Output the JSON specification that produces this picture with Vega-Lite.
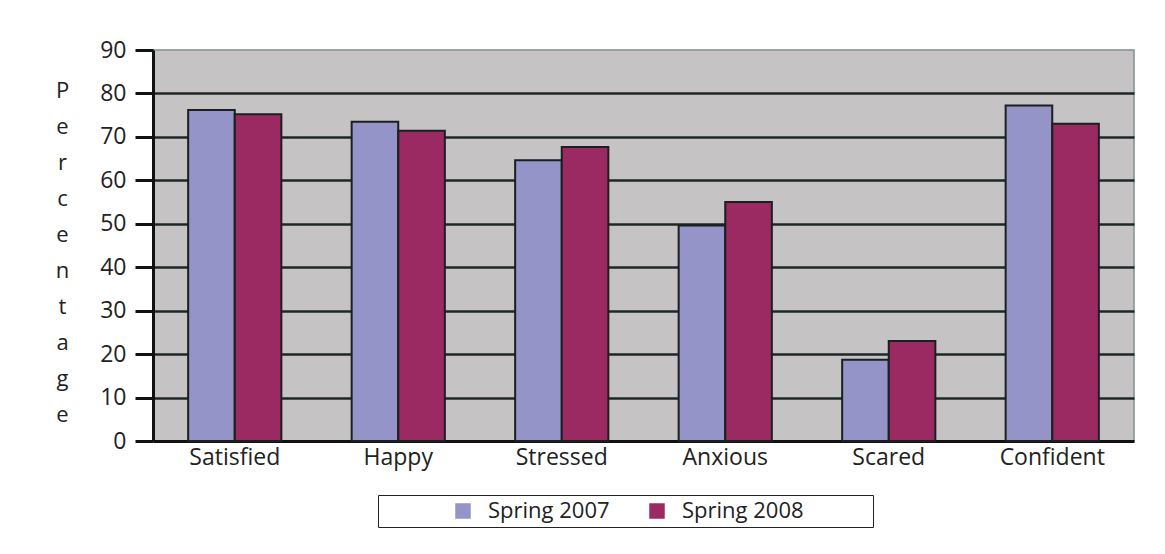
{
  "$schema": "https://vega.github.io/schema/vega-lite/v6.json",
  "autosize": {"type": "none"},
  "padding": {"left": 153, "top": 50, "right": 31, "bottom": 113},
  "width": 981,
  "height": 391,
  "background": "white",
  "config": {
    "font": "Open Sans",
    "view": {"fill": "#c5c3c3", "stroke": "#7f9090", "strokeWidth": 1.5}
  },
  "data": {
    "values": [
      {"feeling": "Satisfied", "term": "Spring 2007", "pct": 76.2},
      {"feeling": "Satisfied", "term": "Spring 2008", "pct": 75.2},
      {"feeling": "Happy", "term": "Spring 2007", "pct": 73.5},
      {"feeling": "Happy", "term": "Spring 2008", "pct": 71.4},
      {"feeling": "Stressed", "term": "Spring 2007", "pct": 64.6},
      {"feeling": "Stressed", "term": "Spring 2008", "pct": 67.7},
      {"feeling": "Anxious", "term": "Spring 2007", "pct": 49.6},
      {"feeling": "Anxious", "term": "Spring 2008", "pct": 55.0},
      {"feeling": "Scared", "term": "Spring 2007", "pct": 18.7},
      {"feeling": "Scared", "term": "Spring 2008", "pct": 23.0},
      {"feeling": "Confident", "term": "Spring 2007", "pct": 77.2},
      {"feeling": "Confident", "term": "Spring 2008", "pct": 73.0}
    ]
  },
  "mark": {"type": "bar", "stroke": "#1a1f1f", "strokeWidth": 2},
  "encoding": {
    "x": {
      "field": "feeling",
      "type": "nominal",
      "sort": null,
      "scale": {"paddingInner": 0.43, "paddingOuter": 0.215},
      "axis": {
        "title": null,
        "labelAngle": 0,
        "labelFontSize": 23,
        "labelColor": "#222",
        "labelPadding": 5,
        "ticks": false,
        "domainColor": "#111",
        "domainWidth": 3
      }
    },
    "xOffset": {"field": "term", "type": "nominal", "scale": {"paddingInner": 0}},
    "y": {
      "field": "pct",
      "type": "quantitative",
      "scale": {"domain": [0, 90], "nice": false},
      "axis": {
        "values": [0, 10, 20, 30, 40, 50, 60, 70, 80, 90],
        "title": ["P", "e", "r", "c", "e", "n", "t", "a", "g", "e"],
        "titleAngle": 0,
        "titleFontSize": 22,
        "titleFontWeight": "normal",
        "titleColor": "#222",
        "titleLineHeight": 36,
        "titleAlign": "center",
        "titleBaseline": "top",
        "titleX": -91,
        "titleY": 30,
        "labelFontSize": 23,
        "labelColor": "#222",
        "labelPadding": 9,
        "tickSize": 18,
        "tickWidth": 3,
        "tickColor": "#111",
        "domainColor": "#111",
        "domainWidth": 3,
        "grid": true,
        "gridColor": {"condition": {"test": "datum.value == 90 || datum.value == 0", "value": "transparent"}, "value": "#1c2828"},
        "gridWidth": 2.5
      }
    },
    "color": {
      "field": "term",
      "type": "nominal",
      "scale": {"range": ["#9494c9", "#9b2a62"]},
      "legend": {
        "title": "\u2800\u2800\u2800\u2800",
        "titleOrient": "left",
        "titleFontSize": 22,
        "titlePadding": 5,
        "orient": "none",
        "direction": "horizontal",
        "legendX": 225,
        "legendY": 445,
        "strokeColor": "#222",
        "fillColor": "white",
        "padding": 5,
        "symbolType": "square",
        "symbolSize": 240,
        "symbolStrokeWidth": 0,
        "labelOffset": 14,
        "labelFontSize": 22,
        "labelLimit": 500,
        "labelColor": "#222",
        "columnPadding": 36,
        "labelExpr": "datum.label == 'Spring 2008' ? datum.label + '\u2800\u2800\u2800\u2800' : datum.label"
      }
    }
  }
}
